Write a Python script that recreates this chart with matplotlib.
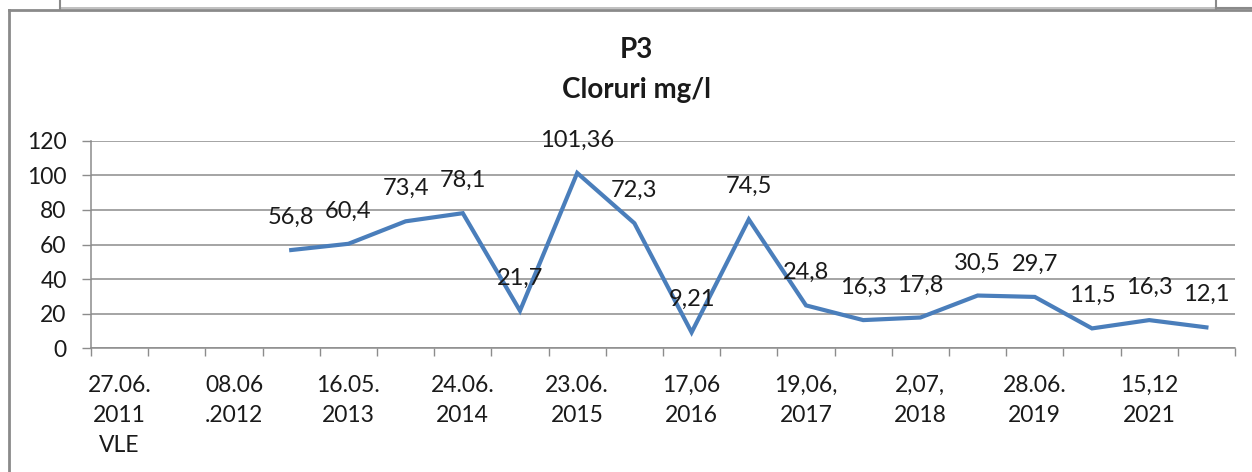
import numpy as np
import matplotlib.pyplot as plt
from matplotlib.lines import Line2D

plt.rcParams['font.family'] = ['Lato', 'DejaVu Sans']

# 20 categories on the axis, only every second one is labelled in the reference
categories = ['27.06.\n2011\nVLE', '', '08.06\n.2012', '', '16.05.\n2013', '',
              '24.06.\n2014', '', '23.06.\n2015', '', '17,06\n2016', '',
              '19,06,\n2017', '', '2,07,\n2018', '', '28.06.\n2019', '',
              '15,12\n2021', '']
values = [np.nan, np.nan, np.nan, 56.8, 60.4, 73.4, 78.1, 21.7, 101.36, 72.3,
          9.21, 74.5, 24.8, 16.3, 17.8, 30.5, 29.7, 11.5, 16.3, 12.1]
yticks = [0, 20, 40, 60, 80, 100, 120]

W, H = 1252, 472
fig = plt.figure(figsize=(W / 100, H / 100), dpi=100)
ax = fig.add_axes([91 / W, 1 - 348.3 / H, (1235 - 91) / W, (348.3 - 140.7) / H])

x = np.arange(len(categories))
ax.plot(x, values, color='#4A7EBB', lw=3.0, solid_joinstyle='miter', zorder=3)
for xi, v in zip(x, values):
    if np.isnan(v):
        continue
    ax.annotate(f'{v:g}'.replace('.', ','), (xi, v), xytext=(0, 23.5),
                textcoords='offset points', ha='center', va='center',
                fontsize=17, color='#1a1a1a', zorder=4)

ax.set_xlim(-0.5, len(categories) - 0.5)
ax.set_ylim(0, 120)
ax.set_yticks(yticks)
ax.grid(axis='y', color='#8c8c8c', lw=1.1)
ax.set_axisbelow(True)

ax.set_xticks(np.arange(len(categories) + 1) - 0.5)
ax.set_xticklabels([])
ax.set_xticks(x, minor=True)
ax.set_xticklabels(categories, minor=True, fontsize=16.5, color='#1a1a1a',
                   linespacing=1.55, va='top')
ax.tick_params(axis='x', which='major', length=6, width=1, color='#8c8c8c')
ax.tick_params(axis='x', which='minor', length=0, pad=19)
ax.tick_params(axis='y', length=6.5, width=1, color='#8c8c8c', pad=11,
               labelsize=16.5, labelcolor='#1a1a1a')

for s in ['top', 'right']:
    ax.spines[s].set_visible(False)
for s in ['left', 'bottom']:
    ax.spines[s].set_color('#8c8c8c')
    ax.spines[s].set_linewidth(1.1)

fig.text(636 / W, 1 - 58 / H, 'P3', ha='center', va='baseline',
         fontsize=20, fontweight='bold', color='#1a1a1a')
fig.text(636 / W, 1 - 98 / H, 'Cloruri mg/l', ha='center', va='baseline',
         fontsize=20, fontweight='bold', color='#1a1a1a')

# frame of the chart box and the bottom of the box above it
def pline(xs, ys, color, lw):
    fig.add_artist(Line2D([p / W for p in xs], [1 - p / H for p in ys],
                          color=color, lw=lw, transform=fig.transFigure))

pline([9, 9], [10, H], '#8a8a8a', 2)
pline([9, W], [10, 10], '#8a8a8a', 2)
pline([60, 1216], [7.5, 7.5], '#b5b5b5', 1.2)
pline([60, 60], [0, 9], '#8a8a8a', 1.5)
pline([1216, 1216], [0, 9], '#8a8a8a', 1.5)
pline([1216, W], [8, 8], '#8a8a8a', 1.5)

fig.savefig('out.png', dpi=100)
